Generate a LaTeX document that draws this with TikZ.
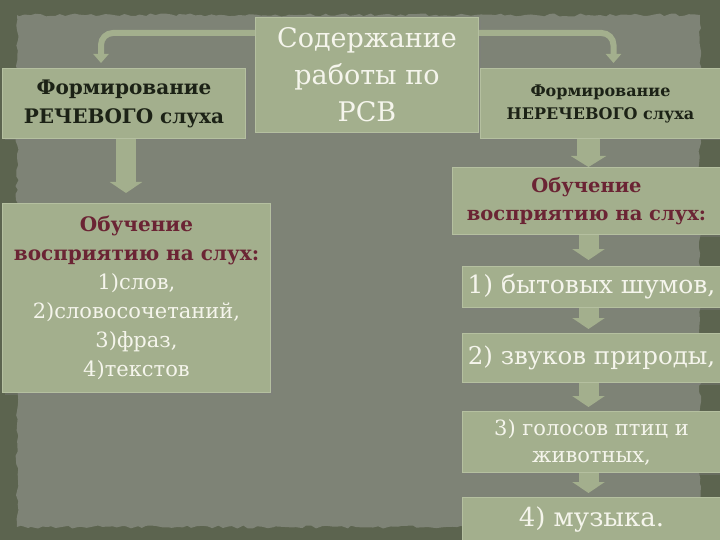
\documentclass[tikz,border=0pt]{standalone}
\usepackage{fontspec}
\setmainfont{DejaVu Serif}
\usetikzlibrary{arrows.meta,shadows,decorations.pathmorphing}
\definecolor{frame}{HTML}{5C644F}
\definecolor{paper}{HTML}{7E8376}
\definecolor{boxfill}{HTML}{A3AF8D}
\definecolor{boxline}{HTML}{B5C0A0}
\definecolor{darktext}{HTML}{1C2216}
\definecolor{redtext}{HTML}{6B2434}
\definecolor{lighttext}{HTML}{F5F5EC}
\newcommand{\redb}[1]{\textcolor{redtext}{\fontsize{20}{29}\selectfont\textbf{#1}}}
\begin{document}
\begin{tikzpicture}[x=1pt,y=-1pt,
  box/.style={draw=boxline, line width=1pt, fill=boxfill, inner sep=0pt, align=center,
    anchor=north west, text=lighttext,
    drop shadow={opacity=0.35,shadow xshift=2pt,shadow yshift=-2pt}},
  conn/.style={draw=boxfill, line width=6pt, rounded corners=12pt,
    -{Triangle[width=15pt,length=9pt]}},
  fat/.style={draw=boxfill, line width=#1,
    -{Triangle[width=#1+12pt,length=11pt]}},
  fat/.default=20pt]
\useasboundingbox (0,0) rectangle (720,540);
\fill[frame] (0,0) rectangle (720,540);
\pgfmathsetseed{7}
\fill[paper, decorate, decoration={random steps, segment length=5pt, amplitude=1.5pt}]
  (17,15) rectangle (700,527);
% boxes
\node[box, minimum width=243pt, minimum height=70pt, text=darktext,
  font=\fontsize{20}{29}\selectfont\bfseries] (frl) at (2,68)
  {Формирование\\РЕЧЕВОГО слуха};
\node[box, minimum width=223pt, minimum height=115pt,
  font=\fontsize{27}{37}\selectfont] (cen) at (255,17)
  {Содержание\\работы по\\РСВ};
\node[box, minimum width=240pt, minimum height=70pt, text=darktext,
  font=\fontsize{16}{23}\selectfont\bfseries] (frr) at (480,68)
  {Формирование\\НЕРЕЧЕВОГО слуха};
\node[box, minimum width=268pt, minimum height=189pt,
  font=\fontsize{21}{29}\selectfont] (obl) at (2,203)
  {\redb{Обучение}\\\redb{восприятию на слух:}\\1)слов,\\2)словосочетаний,\\3)фраз,\\4)текстов};
\node[box, minimum width=268pt, minimum height=67pt, text=redtext,
  font=\fontsize{19.5}{28}\selectfont\bfseries] (obr) at (452,167)
  {Обучение\\восприятию на слух:};
\node[box, minimum width=258pt, minimum height=41pt,
  font=\fontsize{25}{28}\selectfont] (b1) at (462,266) {1) бытовых шумов,};
\node[box, minimum width=258pt, minimum height=49pt,
  font=\fontsize{24.5}{28}\selectfont] (b2) at (462,333) {2) звуков природы,};
\node[box, minimum width=258pt, minimum height=61pt,
  font=\fontsize{21}{27}\selectfont] (b3) at (462,411) {3) голосов птиц и\\животных,};
\node[box, minimum width=258pt, minimum height=45pt,
  font=\fontsize{26}{28}\selectfont] (b4) at (462,497) {4) музыка.};
% connectors from the centre box
\draw[conn, shorten >=5pt] ([yshift=-16pt]cen.north west) -| ([xshift=-23pt]frl.north);
\draw[conn, shorten >=5pt] ([yshift=-16pt]cen.north east) -| ([xshift=13pt]frr.north);
% fat arrows
\draw[fat, shorten >=10pt] ([xshift=2pt]frl.south) -- ([xshift=2pt]frl.south |- obl.north);
\draw[fat=23pt] ([xshift=-12pt]frr.south) -- ([xshift=-12pt]frr.south |- obr.north);
\draw[fat, shorten >=6pt] ([xshift=-3pt]b1.north |- obr.south) -- ([xshift=-3pt]b1.north);
\draw[fat, shorten >=4pt] ([xshift=-3pt]b2.north |- b1.south) -- ([xshift=-3pt]b2.north);
\draw[fat, shorten >=4pt] ([xshift=-3pt]b3.north |- b2.south) -- ([xshift=-3pt]b3.north);
\draw[fat, shorten >=4pt] ([xshift=-3pt]b4.north |- b3.south) -- ([xshift=-3pt]b4.north);
\end{tikzpicture}
\end{document}
